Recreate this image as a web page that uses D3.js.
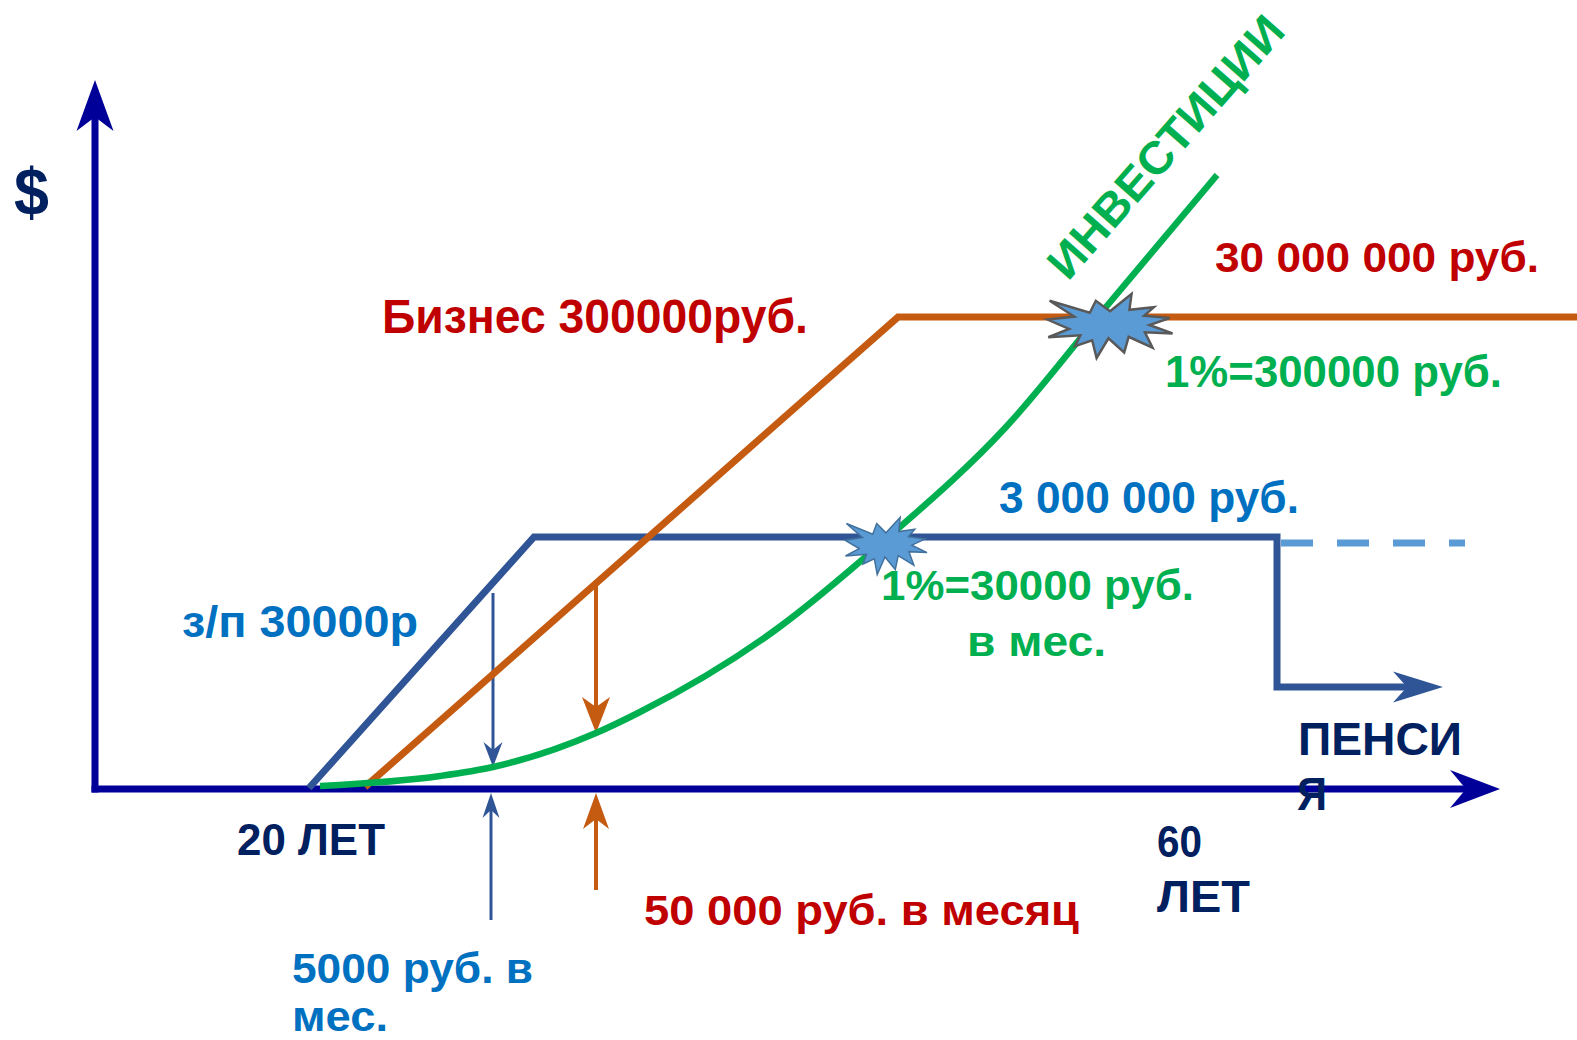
<!DOCTYPE html>
<html>
<head>
<meta charset="utf-8">
<script src="https://cdn.jsdelivr.net/npm/d3@7"></script>
<style>
  html, body { margin: 0; padding: 0; background: #ffffff; }
  svg { display: block; }
  text { font-family: "Liberation Sans", Arial, sans-serif; font-weight: bold; }
</style>
</head>
<body>
<svg id="chart" width="1577" height="1040"></svg>
<script>
// ---------- DATA (abstract units: time on x, money on y) ----------
const salaryTime   = [214, 439, 1182, 1182];
const salaryMoney  = [1, 252, 252, 102];
const pensionEnd   = 1348;               // end of the pension arrow (time)
const pensionDashTime  = [1186, 1370];
const pensionDashMoney = 246;

const businessTime  = [270, 803, 1490];
const businessMoney = [2, 472, 472];

const investTime  = [225, 345, 398, 501, 545, 679, 790, 911, 1011, 1122];
const investMoney = [3, 13, 22, 56, 77, 158, 249, 362, 482, 614];

// vertical arrows: [time, fromMoney, toMoney]
const salaryDrop   = [398, 196, 22];
const businessDrop = [501, 204, 56];
const salaryRise   = [396, -131, -4];
const businessRise = [501, -101, -4];

// explosion markers: [time, money]
const bigBurst   = [1015, 463];
const smallBurst = [791, 243];

const labels = [
  "30 000 000 руб.", "Бизнес 300000руб.", "1%=300000 руб.", "3 000 000 руб.",
  "1%=30000 руб.", "в мес.", "з/п 30000р", "ПЕНСИ", "Я", "20 ЛЕТ", "60", "ЛЕТ",
  "50 000 руб. в месяц", "5000 руб. в", "мес.", "$", "ИНВЕСТИЦИИ"
];

// ---------- LAYOUT ----------
const W = 1577, H = 1040;
const x = d3.scaleLinear().domain([0, 1400]).range([95, 1495]);
const y = d3.scaleLinear().domain([0, 700]).range([789, 89]);

const COL = {
  axis: "#000099", salary: "#2F5597", business: "#C55A11", invest: "#00B050",
  dash: "#5B9BD5", red: "#C00000", green: "#00B050", blue: "#0070C0", navy: "#002060",
  burst: "#5B9BD5"
};

const svg = d3.select("#chart");
svg.append("rect").attr("width", W).attr("height", H).attr("fill", "#fff");

function arrowHead(g, tx, ty, dx, dy, L, Wd, N, color) {
  const len = Math.hypot(dx, dy); dx /= len; dy /= len;
  const px = -dy, py = dx;
  const bx = tx - dx * L, by = ty - dy * L;
  const nx = tx - dx * (L - N), ny = ty - dy * (L - N);
  const pts = [[tx, ty], [bx + px * Wd / 2, by + py * Wd / 2], [nx, ny], [bx - px * Wd / 2, by - py * Wd / 2]];
  g.append("path").attr("d", "M" + pts.map(p => p.join(",")).join("L") + "Z").attr("fill", color);
  return [nx, ny];
}

function arrowLine(g, x1, y1, x2, y2, sw, L, Wd, N, color) {
  const dx = x2 - x1, dy = y2 - y1;
  const [nx, ny] = arrowHead(g, x2, y2, dx, dy, L, Wd, N, color);
  g.append("line").attr("x1", x1).attr("y1", y1).attr("x2", nx).attr("y2", ny)
    .attr("stroke", color).attr("stroke-width", sw);
}

const gAxes = svg.append("g");
// y axis
arrowLine(gAxes, x(0), y(0) + 3.5, x(0), y(709), 7, 51, 37, 14, COL.axis);
// x axis
arrowLine(gAxes, x(0) - 3.5, y(0), x(1405), y(0), 7, 50, 38, 16, COL.axis);

const line = d3.line().x(d => x(d[0])).y(d => y(d[1]));
const gLines = svg.append("g");

// salary path (blue)
const salaryPts = salaryTime.map((t, i) => [t, salaryMoney[i]]);
salaryPts.push([pensionEnd - 36, salaryMoney[3]]);
gLines.append("path").attr("d", line(salaryPts)).attr("fill", "none")
  .attr("stroke", COL.salary).attr("stroke-width", 7).attr("stroke-linejoin", "miter");
arrowHead(gLines, x(pensionEnd), y(salaryMoney[3]), 1, 0, 50, 31, 14, COL.salary);

// dashed pension continuation
gLines.append("line")
  .attr("x1", x(pensionDashTime[0])).attr("x2", x(pensionDashTime[1]))
  .attr("y1", y(pensionDashMoney)).attr("y2", y(pensionDashMoney))
  .attr("stroke", COL.dash).attr("stroke-width", 7).attr("stroke-dasharray", "32,24");

// small vertical arrows
arrowLine(gLines, x(salaryDrop[0]), y(salaryDrop[1]), x(salaryDrop[0]), y(salaryDrop[2]), 3, 25, 19, 8, COL.salary);
arrowLine(gLines, x(salaryRise[0]), y(salaryRise[1]), x(salaryRise[0]), y(salaryRise[2]), 3, 25, 17, 8, COL.salary);

// business path (orange)
gLines.append("path").attr("d", line(businessTime.map((t, i) => [t, businessMoney[i]])))
  .attr("fill", "none").attr("stroke", COL.business).attr("stroke-width", 7).attr("stroke-linejoin", "miter");

arrowLine(gLines, x(businessDrop[0]), y(businessDrop[1]), x(businessDrop[0]), y(businessDrop[2]), 4, 36, 28, 10, COL.business);
arrowLine(gLines, x(businessRise[0]), y(businessRise[1]), x(businessRise[0]), y(businessRise[2]), 4, 36, 26, 10, COL.business);

// investment curve (green)
const investLine = d3.line().x(d => x(d[0])).y(d => y(d[1])).curve(d3.curveMonotoneX);
gLines.append("path").attr("d", investLine(investTime.map((t, i) => [t, investMoney[i]])))
  .attr("fill", "none").attr("stroke", COL.invest).attr("stroke-width", 6.5).attr("stroke-linecap", "butt");

// explosion shapes (PowerPoint irregularSeal1 outline)
const seal = [[10800,5800],[14522,0],[14155,5325],[18380,4457],[16702,7315],[21097,8137],[17607,10475],
  [21600,13290],[16837,12942],[18145,18095],[14020,14457],[13247,19737],[10532,14935],[8485,21600],
  [7715,15627],[4762,17617],[5667,13937],[135,14587],[3722,11775],[0,8615],[4627,7617],[370,2295],
  [7312,6320],[8352,2295]];
function burst(c, w, h, stroke, sw) {
  const cx = x(c[0]), cy = y(c[1]);
  const d = "M" + seal.map(p => [cx + (p[0] / 21600 - 0.5) * w, cy + (p[1] / 21600 - 0.5) * h].join(",")).join("L") + "Z";
  svg.append("path").attr("d", d).attr("fill", COL.burst).attr("stroke", stroke)
    .attr("stroke-width", sw).attr("stroke-linejoin", "miter");
}
burst(bigBurst, 125, 64, "#595959", 2.5);
burst(smallBurst, 82, 57, "#41719C", 1.5);

// ---------- TEXT ----------
const textLayout = [
  { x: 1215, y: 272, size: 42, len: 324, color: COL.red },
  { x: 382,  y: 333, size: 49, len: 426, color: COL.red },
  { x: 1165, y: 387, size: 44, len: 337, color: COL.green },
  { x: 999,  y: 513, size: 44, len: 300, color: COL.blue },
  { x: 881,  y: 600, size: 43, len: 313, color: COL.green },
  { x: 967,  y: 656, size: 43, len: 139, color: COL.green },
  { x: 182,  y: 637, size: 44, len: 236, color: COL.blue },
  { x: 1298, y: 755, size: 46, len: 164, color: COL.navy },
  { x: 1297, y: 810, size: 46, len: 30,  color: COL.navy },
  { x: 237,  y: 855, size: 44, len: 148, color: COL.navy },
  { x: 1157, y: 857, size: 44, len: 45,  color: COL.navy },
  { x: 1157, y: 912, size: 44, len: 93,  color: COL.navy },
  { x: 644,  y: 925, size: 42, len: 435, color: COL.red },
  { x: 292,  y: 983, size: 43, len: 241, color: COL.blue },
  { x: 292,  y: 1031, size: 43, len: 96, color: COL.blue },
  { x: 14,   y: 215, size: 66, len: 35,  color: COL.navy },
  { x: 1068, y: 282, size: 46, len: 332, color: COL.green, rotate: -48.7 }
];
const gText = svg.append("g");
labels.forEach((t, i) => {
  const L = textLayout[i];
  const el = gText.append("text")
    .attr("x", L.x).attr("y", L.y)
    .attr("font-size", L.size).attr("fill", L.color)
    .attr("textLength", L.len).attr("lengthAdjust", "spacingAndGlyphs")
    .text(t);
  if (L.rotate) el.attr("transform", `rotate(${L.rotate},${L.x},${L.y})`);
});
</script>
</body>
</html>
